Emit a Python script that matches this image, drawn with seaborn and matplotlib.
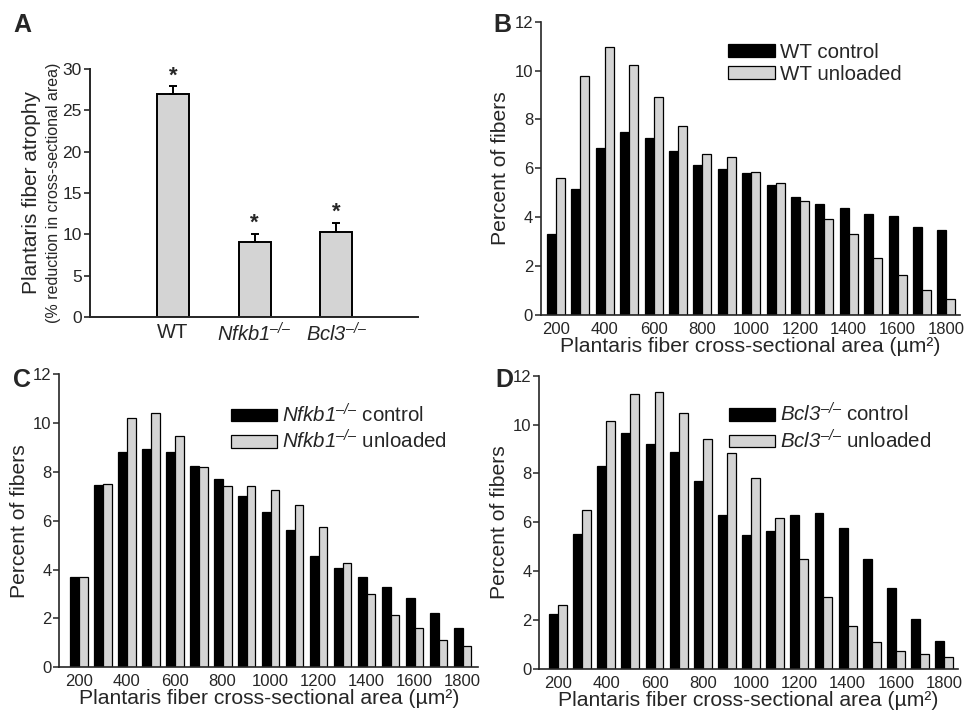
import numpy as np
import pandas as pd
import matplotlib
matplotlib.use("Agg")
import matplotlib.pyplot as plt
import seaborn as sns
from matplotlib.patches import Patch

sns.set_theme(style="ticks")
plt.rcParams['font.family'] = ['Liberation Sans', 'DejaVu Sans']
plt.rcParams['mathtext.fontset'] = 'custom'
plt.rcParams['mathtext.rm'] = 'Liberation Sans:italic'
plt.rcParams['mathtext.it'] = 'Liberation Sans:italic'
plt.rcParams['mathtext.bf'] = 'Liberation Sans:bold'

# ---------------- data ----------------
genotypes = ["WT", "Nfkb1", "Bcl3"]
genotype_labels = ["WT", r"$\mathrm{Nfkb1}^{–/–}$", r"$\mathrm{Bcl3}^{–/–}$"]
atrophy = [27.0, 9.1, 10.3]
atrophy_err = [0.9, 1.0, 1.1]

areas = [200, 300, 400, 500, 600, 700, 800, 900, 1000, 1100, 1200,
         1300, 1400, 1500, 1600, 1700, 1800]
tick_areas = [200, 400, 600, 800, 1000, 1200, 1400, 1600, 1800]

wt_control = [3.30, 5.17, 6.85, 7.49, 7.23, 6.70, 6.15, 5.96, 5.82, 5.30, 4.84,
              4.54, 4.36, 4.12, 4.05, 3.61, 3.46]
wt_unloaded = [5.62, 9.76, 10.95, 10.23, 8.92, 7.72, 6.60, 6.45, 5.86, 5.39, 4.68,
               3.94, 3.33, 2.35, 1.62, 1.02, 0.65]
nfkb1_control = [3.68, 7.45, 8.81, 8.95, 8.82, 8.25, 7.70, 7.02, 6.34, 5.62, 4.57,
                 4.05, 3.68, 3.30, 2.84, 2.21, 1.60]
nfkb1_unloaded = [3.71, 7.51, 10.19, 10.40, 9.48, 8.21, 7.42, 7.40, 7.24, 6.64, 5.73,
                  4.25, 3.00, 2.13, 1.60, 1.13, 0.89]
bcl3_control = [2.26, 5.54, 8.32, 9.64, 9.20, 8.88, 7.70, 6.29, 5.50, 5.66, 6.30,
                6.38, 5.77, 4.49, 3.33, 2.06, 1.15]
bcl3_unloaded = [2.60, 6.49, 10.15, 11.24, 11.32, 10.46, 9.41, 8.84, 7.83, 6.18, 4.51,
                 2.93, 1.76, 1.10, 0.72, 0.63, 0.48]

GRAY = "#d4d4d4"

fig = plt.figure(figsize=(9.65, 7.10), dpi=100)

# ---------------- panel A ----------------
axA = fig.add_axes([0.0933, 0.5535, 0.3400, 0.3493])
dfA = pd.DataFrame({"genotype": genotypes, "atrophy": atrophy})
sns.barplot(data=dfA, x="genotype", y="atrophy", order=genotypes, color=GRAY,
            saturation=1, edgecolor="black", linewidth=1.4, width=0.39,
            errorbar=None, ax=axA)
xpos = np.arange(len(genotypes))
axA.errorbar(xpos, atrophy, yerr=[np.zeros(len(atrophy)), atrophy_err],
             fmt="none", ecolor="black", elinewidth=1.4, capsize=2.7, capthick=1.4)
for xp, v, e in zip(xpos, atrophy, atrophy_err):
    axA.annotate("*", xy=(xp, v + e), xytext=(0, 0), textcoords="offset points",
                 ha="center", va="bottom", fontsize=16, fontweight="bold")
axA.set_ylim(0, 30)
axA.set_xlim(-1.015, 3.0)
axA.set_yticks([0, 5, 10, 15, 20, 25, 30])
axA.set_xticks(xpos)
axA.set_xticklabels(genotype_labels, fontsize=14.5)
axA.tick_params(axis="x", length=0, pad=4)
axA.tick_params(axis="y", labelsize=12.5, length=4, width=1.2, pad=2)
axA.set_xlabel("")
axA.set_ylabel("")
for s in ["top", "right"]:
    axA.spines[s].set_visible(False)
for s in ["left", "bottom"]:
    axA.spines[s].set_linewidth(1.4)
fig.text(0.033, 0.7285, "Plantaris fiber atrophy", rotation=90, ha="center",
         va="center", fontsize=15)
fig.text(0.055, 0.7285, "(% reduction in cross-sectional area)", rotation=90,
         ha="center", va="center", fontsize=11.5)

# ---------------- histogram panels ----------------
def hist_panel(rect, control, unloaded, lab_c, lab_u, xlim, leg_xy):
    ax = fig.add_axes(rect)
    df = pd.DataFrame({
        "area": [str(a) for a in areas] * 2,
        "pct": list(control) + list(unloaded),
        "group": [lab_c] * len(areas) + [lab_u] * len(areas),
    })
    sns.barplot(data=df, x="area", y="pct", hue="group",
                order=[str(a) for a in areas], hue_order=[lab_c, lab_u],
                palette=["black", GRAY], saturation=1, edgecolor="black",
                linewidth=0.9, width=0.74, errorbar=None, legend=False, ax=ax)
    ax.set_ylim(0, 12)
    ax.set_xlim(*xlim)
    ax.set_yticks(range(0, 13, 2))
    ax.set_xticks([areas.index(t) for t in tick_areas])
    ax.set_xticklabels([str(t) for t in tick_areas])
    ax.tick_params(axis="x", length=0, pad=5, labelsize=12)
    ax.tick_params(axis="y", length=4, width=1.1, pad=1.5, labelsize=12)
    ax.set_ylabel("Percent of fibers", fontsize=15.2, labelpad=3)
    ax.set_xlabel("Plantaris fiber cross-sectional area (µm²)", fontsize=15.2,
                  labelpad=0)
    for s in ["top", "right"]:
        ax.spines[s].set_visible(False)
    for s in ["left", "bottom"]:
        ax.spines[s].set_linewidth(1.2)
    handles = [Patch(facecolor="black", edgecolor="black", linewidth=0.9),
               Patch(facecolor=GRAY, edgecolor="black", linewidth=0.9)]
    fig.legend(handles, [lab_c, lab_u], loc="center left",
               bbox_to_anchor=leg_xy, bbox_transform=fig.transFigure,
               frameon=False, fontsize=14.8, handlelength=2.25,
               handleheight=0.55, handletextpad=0.25, labelspacing=0.15,
               borderpad=0, borderaxespad=0)
    return ax

hist_panel([0.5603, 0.5563, 0.4345, 0.4131], wt_control, wt_unloaded,
           "WT control", "WT unloaded", (-0.627, 16.56), (0.7547, 0.9108))
hist_panel([0.0615, 0.0601, 0.4340, 0.4131], nfkb1_control, nfkb1_unloaded,
           r"$\mathrm{Nfkb1}^{–/–}$ control", r"$\mathrm{Nfkb1}^{–/–}$ unloaded",
           (-0.805, 16.65), (0.2394, 0.3972))
hist_panel([0.5589, 0.0577, 0.4337, 0.4131], bcl3_control, bcl3_unloaded,
           r"$\mathrm{Bcl3}^{–/–}$ control", r"$\mathrm{Bcl3}^{–/–}$ unloaded",
           (-0.775, 16.57), (0.7554, 0.3979))

# panel letters
for lbl, x, y in [("A", 13, 32), ("B", 493, 32), ("C", 13, 387), ("D", 495, 387)]:
    fig.text(x / 965, 1 - y / 710, lbl, fontsize=18, fontweight="bold",
             ha="left", va="baseline")

fig.savefig("out.png", dpi=100)
